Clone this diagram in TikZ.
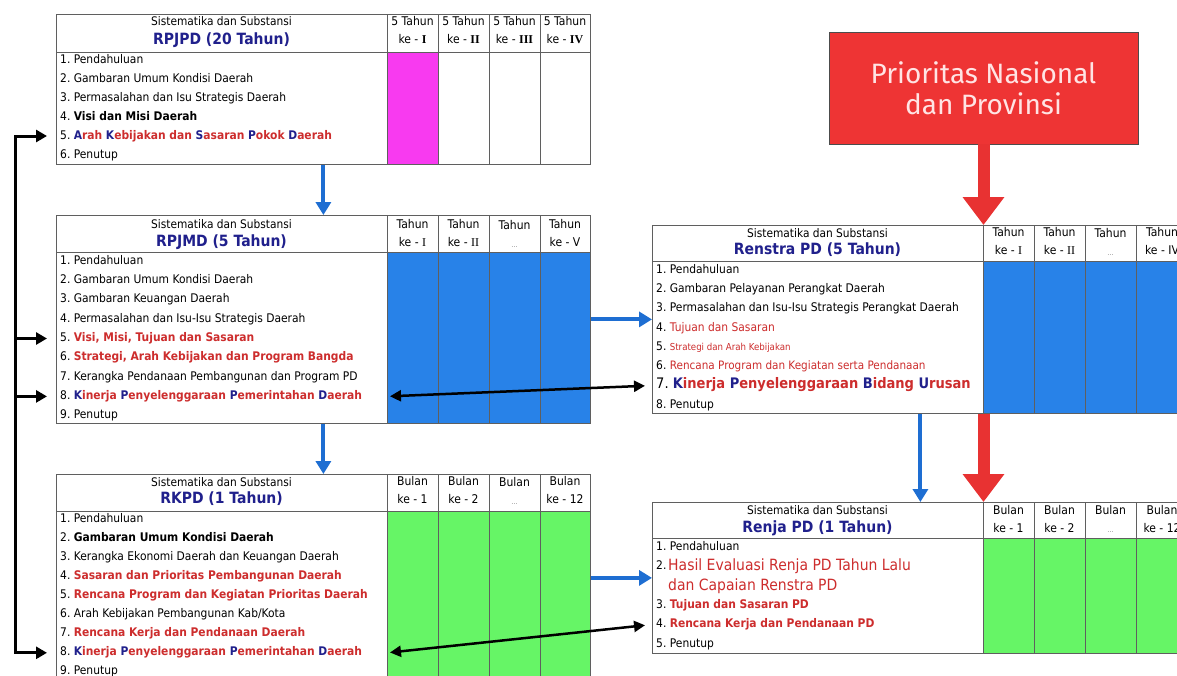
\documentclass[tikz,border=0pt]{standalone}
\usepackage{fontspec}
\setmainfont{DejaVu Sans}[FakeStretch=0.9]
\newfontfamily\romfont{Liberation Serif}
\newfontfamily\boxfont{Fira Sans}
\usetikzlibrary{arrows.meta,positioning}
\definecolor{magentafill}{RGB}{248,58,240}
\definecolor{bluefill}{RGB}{40,130,232}
\definecolor{greenfill}{RGB}{102,245,102}
\definecolor{boxred}{RGB}{238,52,52}
\definecolor{arrred}{RGB}{232,50,50}
\definecolor{arrblue}{RGB}{30,110,210}
\definecolor{navy}{RGB}{32,32,140}
\definecolor{txtred}{RGB}{205,45,45}
\definecolor{ruling}{RGB}{95,95,95}
\definecolor{boxtext}{RGB}{255,228,228}
\newcommand{\rowsize}{\fontsize{11.9}{14}\selectfont}
\newcommand{\subsize}{\fontsize{11.8}{13}\selectfont}
\newcommand{\headsize}{\fontsize{12}{18}\selectfont}
\newcommand{\titlesize}{\fontsize{15.5}{18}\selectfont}
\newcommand{\hot}[1]{\textcolor{txtred}{\bfseries #1}}
\newcommand{\cw}[2]{\textcolor{navy}{#1}\textcolor{txtred}{#2}}
\newcommand{\rom}[1]{{\romfont #1}}
\newcommand{\dotcell}{{\fontsize{7}{8}\selectfont\textcolor{gray}{\dots}}}

\begin{document}
\begin{tikzpicture}[x=1pt,y=-1pt,
  rule/.style={draw=ruling,line width=0.8pt},
  frame/.style={rule,inner sep=0pt,anchor=north west},
  cellfill/.style={inner sep=0pt,anchor=north west},
  row/.style={anchor=west,inner sep=0pt,text height=8.5pt,text depth=2.5pt,font=\rowsize},
  subhead/.style={inner sep=0pt,font=\subsize},
  title/.style={inner sep=0pt,font=\titlesize\bfseries,text=navy},
  colhead/.style={align=center,inner sep=0pt,font=\headsize},
  bluearr/.style={draw=arrblue,line width=4pt,-{Triangle[length=13pt,width=15pt]}},
  redarr/.style={draw=arrred,line width=12pt,-{Triangle[length=28pt,width=40pt]}},
  railarr/.style={draw=black,line width=3pt,-{Triangle[length=11pt,width=12pt]}},
  link/.style={draw=black,line width=2.5pt,{Triangle[length=11pt,width=11pt]}-{Triangle[length=11pt,width=11pt]}}]
\useasboundingbox (0,0) rectangle (1177,675);
\clip (0,0) rectangle (1177,675);
\fill[white] (0,0) rectangle (1177,675);

% RPJPD
\node[cellfill,fill=magentafill,minimum width=51pt,minimum height=112pt] (pjfill) at (387,52) {};
\node[frame,minimum width=534pt,minimum height=150pt] (rpjpd) at (56,14) {};
\draw[rule] (56,52) -- (590,52);
\foreach \x in {387,438,489,540} \draw[rule] (\x,14) -- (\x,164);
\node[subhead] (pjsub) at (221.5,21) {Sistematika dan Substansi};
\node[title] (pjtitle) at (221.5,40) {RPJPD (20 Tahun)};
\foreach \x/\k [count=\i] in {412.5/I,463.5/II,514.5/III,565/IV}
  \node[colhead] (pjc\i) at (\x,30.5) {5 Tahun\\ke - \textbf{\rom{\k}}};
\foreach \t [count=\i] in {Pendahuluan,Gambaran Umum Kondisi Daerah,Permasalahan dan Isu Strategis Daerah,
  \textbf{Visi dan Misi Daerah},{\textbf{\cw{A}{rah} \cw{K}{ebijakan dan} \cw{S}{asaran} \cw{P}{okok} \cw{D}{aerah}}},Penutup}
  \node[row] (pj\i) at (60,41+19*\i) {\i.\ \t};

% RPJMD
\node[cellfill,fill=bluefill,minimum width=203pt,minimum height=171pt] (mjfill) at (387,252) {};
\node[frame,minimum width=534pt,minimum height=208pt] (rpjmd) at (56,215) {};
\draw[rule] (56,252) -- (590,252);
\foreach \x in {387,438,489,540} \draw[rule] (\x,215) -- (\x,423);
\node[subhead] (mjsub) at (221.5,224) {Sistematika dan Substansi};
\node[title] (mjtitle) at (221.5,242) {RPJMD (5 Tahun)};
\foreach \x/\k [count=\i] in {412.5/ke - \rom{I},463.5/ke - \rom{II},514.5/\dotcell,565/ke - V}
  \node[colhead] (mjc\i) at (\x,233.5) {Tahun\\\k};
\foreach \t [count=\i] in {Pendahuluan,Gambaran Umum Kondisi Daerah,Gambaran Keuangan Daerah,
  Permasalahan dan Isu-Isu Strategis Daerah,{\hot{Visi, Misi, Tujuan dan Sasaran}},
  {\hot{Strategi, Arah Kebijakan dan Program Bangda}},Kerangka Pendanaan Pembangunan dan Program PD,
  {\textbf{\cw{K}{inerja} \cw{P}{enyelenggaraan} \cw{P}{emerintahan} \cw{D}{aerah}}},Penutup}
  \node[row] (mj\i) at (60,242+19.3*\i) {\i.\ \t};

% RKPD
\node[cellfill,fill=greenfill,minimum width=203pt,minimum height=180pt] (kpfill) at (387,511) {};
\node[frame,minimum width=534pt,minimum height=216pt] (rkpd) at (56,474) {};
\draw[rule] (56,511) -- (590,511);
\foreach \x in {387,438,489,540} \draw[rule] (\x,474) -- (\x,690);
\node[subhead] (kpsub) at (221.5,482) {Sistematika dan Substansi};
\node[title] (kptitle) at (221.5,499) {RKPD (1 Tahun)};
\foreach \x/\k [count=\i] in {412.5/ke - 1,463.5/ke - 2,514.5/\dotcell,565/ke - 12}
  \node[colhead] (kpc\i) at (\x,490.5) {Bulan\\\k};
\foreach \t [count=\i] in {Pendahuluan,\textbf{Gambaran Umum Kondisi Daerah},Kerangka Ekonomi Daerah dan Keuangan Daerah,
  \hot{Sasaran dan Prioritas Pembangunan Daerah},\hot{Rencana Program dan Kegiatan Prioritas Daerah},
  {Arah Kebijakan Pembangunan Kab/Kota},\hot{Rencana Kerja dan Pendanaan Daerah},
  {\textbf{\cw{K}{inerja} \cw{P}{enyelenggaraan} \cw{P}{emerintahan} \cw{D}{aerah}}},Penutup}
  \node[row] (kp\i) at (60,500+19.1*\i) {\i.\ \t};

% Renstra PD
\node[cellfill,fill=bluefill,minimum width=205pt,minimum height=152pt] (rsfill) at (983,261) {};
\node[frame,minimum width=536pt,minimum height=188pt] (renstra) at (652,225) {};
\draw[rule] (652,261) -- (1188,261);
\foreach \x in {983,1034,1085,1136} \draw[rule] (\x,225) -- (\x,413);
\node[subhead] (rssub) at (817.5,233) {Sistematika dan Substansi};
\node[title] (rstitle) at (817.5,250) {Renstra PD (5 Tahun)};
\foreach \x/\k [count=\i] in {1008.5/ke - \rom{I},1059.5/ke - \rom{II},1110.5/\dotcell,1162/ke - IV}
  \node[colhead] (rsc\i) at (\x,241.5) {Tahun\\\k};
\node[row] (rs1) at (656,270) {1.\ Pendahuluan};
\node[row] (rs2) at (656,289.5) {2.\ Gambaran Pelayanan Perangkat Daerah};
\node[row] (rs3) at (656,308.5) {3.\ Permasalahan dan Isu-Isu Strategis Perangkat Daerah};
\node[row] (rs4) at (656,328) {4.\ \textcolor{txtred}{Tujuan dan Sasaran}};
\node[row] (rs5) at (656,347) {5.\ {\fontsize{9.6}{11}\selectfont\textcolor{txtred}{Strategi dan Arah Kebijakan}}};
\node[row] (rs6) at (656,366.5) {6.\ {\fontsize{11.6}{12}\selectfont\textcolor{txtred}{Rencana Program dan Kegiatan serta Pendanaan}}};
\node[row,font=\fontsize{14.5}{16}\selectfont] (rs7) at (656,385.5)
  {7.\ \textbf{\cw{K}{inerja} \cw{P}{enyelenggaraan} \cw{B}{idang} \cw{U}{rusan}}};
\node[row] (rs8) at (656,405) {8.\ Penutup};

% Renja PD
\node[cellfill,fill=greenfill,minimum width=205pt,minimum height=115pt] (rjfill) at (983,538) {};
\node[frame,minimum width=536pt,minimum height=151pt] (renja) at (652,502) {};
\draw[rule] (652,538) -- (1188,538);
\foreach \x in {983,1034,1085,1136} \draw[rule] (\x,502) -- (\x,653);
\node[subhead] (rjsub) at (817.5,510) {Sistematika dan Substansi};
\node[title] (rjtitle) at (817.5,528) {Renja PD (1 Tahun)};
\foreach \x/\k [count=\i] in {1008.5/ke - 1,1059.5/ke - 2,1110.5/\dotcell,1162/ke - 12}
  \node[colhead] (rjc\i) at (\x,519) {Bulan\\\k};
\node[row] (rj1) at (656,547) {1.\ Pendahuluan};
\node[row] (rj2) at (656,566) {2.};
\node[anchor=west,align=left,inner sep=0pt,font=\fontsize{15.5}{20}\selectfont,text=txtred] (rj2t) at (668,576.5)
  {Hasil Evaluasi Renja PD Tahun Lalu\\dan Capaian Renstra PD};
\node[row] (rj3) at (656,605) {3.\ \hot{Tujuan dan Sasaran PD}};
\node[row] (rj4) at (656,624.5) {4.\ \hot{Rencana Kerja dan Pendanaan PD}};
\node[row] (rj5) at (656,644) {5.\ Penutup};

% Prioritas
\node[draw=black!70,fill=boxred,line width=0.8pt,minimum width=309pt,minimum height=112pt,align=center,
  text=boxtext,font=\boxfont\fontsize{28}{31}\selectfont] (prio) at (983.5,88) {Prioritas Nasional\\dan Provinsi};

% arrows
\draw[bluearr] (rpjpd.south) -- (rpjmd.north);
\draw[bluearr] (rpjmd.south) -- (rkpd.north);
\draw[bluearr] (rpjmd.east) -- (renstra.west);
\draw[bluearr] (rkpd.east |- renja.west) -- (renja.west);
\draw[bluearr] (renstra.south) -- (renja.north);
\draw[redarr] (prio.south) -- (prio.south |- renstra.north);
\draw[redarr] (prio.south |- renstra.south) -- (prio.south |- renja.north);

\coordinate (rail) at (15,0);
\draw[railarr,{Triangle[length=11pt,width=12pt]}-{Triangle[length=11pt,width=12pt]},shorten <=9pt,shorten >=9pt]
  (rpjpd.west |- pj5) -| (rail |- kp8) -- (rkpd.west |- kp8);
\draw[railarr,shorten >=9pt] (rail |- mj5) -- (rpjmd.west |- mj5);
\draw[railarr,shorten >=9pt] (rail |- mj8) -- (rpjmd.west |- mj8);
\draw[link,shorten <=3pt,shorten >=7pt] (mjfill.west |- mj8) -- (renstra.west |- rs7);
\draw[link,shorten <=3pt,shorten >=7pt] (kpfill.west |- kp8) -- (renja.west |- rj4);
\end{tikzpicture}
\end{document}
